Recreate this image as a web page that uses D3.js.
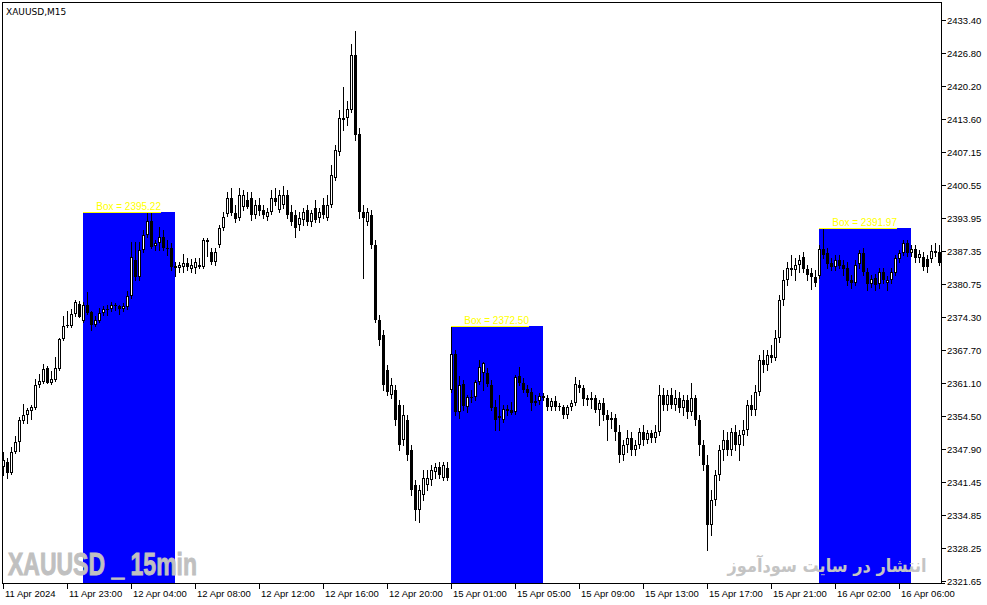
<!DOCTYPE html>
<html><head><meta charset="utf-8">
<script src="https://cdn.jsdelivr.net/npm/d3@7"></script>
<style>body{margin:0;background:#fff;overflow:hidden}</style>
</head><body><svg id="c" width="987" height="605"></svg>
<script>
const symbolTitle = "XAUUSD,M15";
const opens = [2344.36,2345.35,2343.16,2347.34,2349.33,2353.52,2354.71,2355.51,2356.11,2360.68,2361.28,2364.08,2361.08,2361.68,2363.88,2369.85,2372.44,2372.44,2374.83,2376.82,2373.44,2376.62,2375.23,2372.64,2373.44,2375.03,2375.83,2375.83,2376.62,2376.42,2375.83,2376.22,2378.41,2385.59,2382.20,2387.58,2390.57,2393.36,2388.38,2388.97,2390.17,2387.98,2387.98,2384.39,2384.00,2384.20,2384.99,2383.80,2384.00,2384.59,2384.20,2389.57,2387.18,2385.19,2388.57,2391.96,2394.75,2397.94,2394.95,2393.96,2396.15,2397.54,2397.94,2394.55,2396.54,2395.55,2394.15,2395.15,2397.94,2395.55,2396.54,2398.54,2395.15,2394.55,2392.56,2393.56,2395.55,2393.16,2395.95,2393.96,2396.54,2393.96,2396.54,2401.92,2407.10,2413.88,2413.88,2415.47,2426.42,2410.69,2395.15,2393.16,2394.55,2388.57,2373.64,2370.65,2363.68,2358.70,2359.69,2356.70,2349.73,2353.72,2347.74,2340.77,2335.79,2338.77,2340.77,2341.76,2343.36,2344.36,2342.16,2344.16,2359.69,2366.86,2355.31,2360.88,2356.31,2358.30,2358.30,2361.28,2363.08,2363.08,2360.68,2356.31,2354.11,2353.72,2355.91,2355.71,2355.31,2362.48,2361.08,2359.89,2359.29,2357.50,2357.50,2358.50,2358.10,2356.31,2357.50,2356.50,2356.31,2354.71,2356.31,2357.10,2360.68,2360.09,2358.10,2357.70,2358.10,2355.71,2357.10,2354.71,2353.72,2354.11,2351.32,2346.74,2348.73,2350.13,2347.74,2348.73,2351.32,2349.73,2351.12,2350.13,2351.32,2358.70,2356.70,2358.70,2356.70,2358.10,2356.11,2357.70,2355.31,2358.10,2353.72,2348.73,2344.75,2332.80,2337.78,2342.76,2347.74,2349.73,2347.74,2351.32,2348.73,2350.73,2351.72,2356.70,2355.71,2359.29,2365.67,2364.67,2366.66,2366.07,2370.05,2377.62,2381.60,2384.00,2383.60,2384.59,2386.19,2383.80,2383.00,2382.20,2382.40,2387.78,2386.98,2384.99,2384.20,2385.59,2384.59,2384.00,2381.60,2381.01,2384.79,2386.98,2383.20,2380.81,2382.00,2380.81,2383.20,2381.01,2381.60,2383.00,2385.79,2386.98,2388.97,2386.98,2387.78,2385.99,2386.19,2385.79,2385.79,2386.98,2387.18];
const highs = [2347.34,2346.15,2348.34,2350.53,2354.31,2356.90,2356.11,2356.70,2361.88,2362.88,2364.87,2364.48,2363.48,2366.27,2370.05,2374.44,2375.43,2375.83,2377.62,2377.42,2377.22,2379.21,2375.43,2374.44,2376.03,2376.42,2376.62,2377.22,2377.02,2376.62,2377.02,2379.41,2389.17,2389.17,2389.17,2391.56,2395.22,2394.95,2389.57,2392.16,2391.56,2389.57,2388.97,2385.19,2385.19,2386.78,2385.99,2385.79,2385.99,2385.99,2389.97,2389.97,2387.98,2387.98,2392.56,2395.15,2399.14,2399.93,2396.54,2399.93,2399.53,2399.14,2399.14,2397.54,2397.94,2396.54,2395.95,2399.53,2399.93,2399.53,2400.33,2399.53,2396.54,2395.55,2395.15,2395.95,2396.54,2395.55,2397.54,2395.95,2397.94,2398.54,2404.51,2408.50,2415.47,2420.05,2417.26,2428.61,2431.20,2411.88,2396.54,2395.95,2395.55,2389.57,2374.63,2371.64,2364.67,2362.08,2360.68,2357.70,2356.70,2354.71,2348.73,2341.76,2340.77,2343.76,2343.76,2344.75,2345.15,2345.35,2345.35,2345.35,2372.50,2367.66,2362.48,2361.68,2358.70,2359.69,2361.68,2365.67,2365.27,2364.08,2361.68,2357.70,2358.70,2356.70,2356.70,2357.30,2362.68,2364.27,2362.08,2360.68,2360.09,2358.70,2359.09,2359.09,2358.70,2358.10,2358.50,2357.10,2356.70,2356.70,2357.70,2362.28,2361.68,2360.68,2358.70,2359.29,2358.70,2357.70,2358.10,2355.71,2355.31,2354.91,2352.72,2349.73,2351.72,2351.32,2349.73,2352.12,2352.72,2351.72,2351.72,2352.72,2360.68,2360.09,2359.69,2360.09,2359.69,2359.29,2358.70,2358.70,2361.08,2358.70,2354.71,2349.73,2346.74,2339.77,2343.76,2348.73,2351.72,2351.32,2352.12,2352.72,2351.72,2353.72,2357.70,2358.70,2360.68,2366.66,2367.66,2367.66,2368.66,2371.64,2378.62,2383.60,2385.19,2386.58,2385.99,2386.58,2387.18,2384.59,2384.00,2383.60,2388.57,2391.97,2387.98,2385.99,2386.58,2386.58,2385.59,2385.19,2382.60,2385.59,2387.58,2387.98,2384.00,2382.60,2382.80,2384.00,2384.00,2382.40,2384.00,2386.58,2387.58,2389.57,2389.57,2388.57,2388.57,2387.58,2387.18,2386.58,2388.57,2388.97,2388.57];
const lows = [2342.76,2342.16,2342.96,2347.14,2347.54,2353.12,2353.12,2353.91,2355.91,2360.29,2361.08,2361.08,2360.88,2361.48,2363.68,2369.65,2372.24,2372.24,2374.44,2374.24,2373.24,2374.83,2371.64,2372.44,2373.24,2374.63,2374.63,2375.43,2375.63,2374.83,2375.43,2375.83,2378.02,2381.60,2381.60,2387.18,2390.17,2387.98,2387.58,2387.58,2387.58,2386.58,2383.60,2382.40,2383.20,2383.20,2383.60,2383.20,2383.00,2384.00,2384.00,2386.39,2384.79,2384.59,2388.18,2391.56,2394.35,2394.55,2393.16,2393.56,2395.55,2395.95,2393.56,2393.96,2394.55,2393.96,2393.56,2394.75,2396.54,2395.15,2395.95,2393.96,2392.56,2390.17,2391.56,2392.56,2392.56,2392.36,2393.16,2393.16,2393.96,2393.56,2396.15,2401.52,2406.50,2411.48,2412.48,2415.07,2409.49,2393.96,2382.00,2392.56,2387.98,2373.24,2368.66,2359.69,2358.70,2358.10,2352.72,2347.74,2348.73,2345.75,2338.77,2333.80,2333.40,2337.78,2339.77,2340.77,2342.16,2342.16,2341.76,2341.76,2359.29,2354.71,2354.11,2355.71,2355.31,2357.30,2357.70,2360.88,2359.69,2360.49,2355.71,2351.72,2351.72,2353.32,2354.71,2354.91,2354.91,2360.68,2359.29,2358.50,2355.71,2356.70,2356.90,2357.70,2355.71,2355.71,2355.71,2355.71,2354.11,2354.11,2355.71,2356.70,2359.29,2356.70,2356.70,2356.11,2355.31,2352.72,2353.72,2349.73,2352.12,2349.73,2345.35,2345.75,2347.34,2346.74,2346.74,2348.14,2348.73,2349.13,2349.33,2349.33,2350.73,2355.71,2355.71,2356.11,2355.71,2355.31,2354.71,2354.11,2354.71,2352.72,2346.74,2343.76,2327.82,2330.81,2336.78,2341.76,2345.75,2346.74,2346.74,2347.74,2345.75,2348.73,2350.73,2354.71,2354.71,2358.70,2363.28,2363.68,2365.27,2365.67,2369.25,2376.62,2380.61,2382.60,2381.60,2383.20,2383.20,2381.60,2379.81,2380.41,2382.00,2385.99,2384.00,2383.60,2383.60,2384.00,2382.60,2380.61,2380.01,2380.61,2384.00,2382.60,2379.61,2380.21,2379.61,2380.01,2381.01,2379.61,2381.01,2382.60,2385.19,2386.58,2386.39,2386.39,2385.19,2385.19,2383.60,2383.20,2385.19,2386.39,2384.59];
const closes = [2345.75,2343.16,2347.34,2349.33,2353.72,2354.71,2355.71,2356.31,2360.68,2361.48,2363.88,2361.08,2361.88,2364.08,2369.85,2372.44,2372.64,2374.83,2377.22,2374.24,2376.62,2375.03,2372.64,2373.64,2375.03,2375.83,2375.80,2376.62,2376.60,2375.83,2376.42,2378.41,2386.19,2382.20,2387.58,2390.57,2393.36,2388.18,2388.97,2390.17,2387.98,2387.95,2384.20,2384.00,2384.59,2384.99,2384.20,2384.59,2385.19,2384.20,2389.57,2389.17,2385.19,2387.18,2391.96,2394.15,2397.94,2394.95,2393.76,2398.54,2398.54,2396.15,2394.55,2396.54,2395.35,2394.55,2395.15,2397.94,2397.14,2398.54,2398.54,2394.55,2393.16,2391.96,2393.96,2395.15,2393.16,2394.95,2393.56,2395.15,2394.55,2396.54,2402.52,2407.50,2413.88,2413.48,2415.67,2426.42,2410.49,2395.15,2393.96,2395.15,2388.57,2373.64,2369.65,2360.68,2359.29,2360.68,2353.72,2348.73,2354.71,2346.74,2339.77,2335.79,2339.77,2342.16,2342.16,2343.76,2344.36,2342.76,2344.75,2342.16,2366.86,2355.31,2360.68,2356.50,2358.30,2358.10,2361.28,2364.27,2365.07,2360.88,2356.11,2353.72,2354.51,2355.91,2355.51,2355.11,2362.28,2361.08,2359.69,2359.09,2357.10,2357.10,2358.50,2358.10,2356.31,2357.50,2356.31,2356.31,2354.71,2356.31,2357.10,2360.88,2360.09,2357.90,2357.70,2358.10,2355.71,2357.10,2354.71,2353.72,2354.11,2351.32,2346.74,2348.73,2350.13,2347.74,2348.73,2351.32,2349.73,2351.12,2350.13,2351.32,2358.70,2356.70,2358.70,2356.70,2358.10,2356.11,2357.70,2355.31,2358.10,2353.72,2348.73,2344.75,2332.80,2337.78,2342.76,2347.74,2349.73,2347.74,2351.32,2348.73,2350.73,2351.72,2356.70,2355.71,2359.29,2365.67,2364.67,2366.66,2366.07,2370.05,2377.62,2381.60,2384.00,2383.60,2384.59,2385.59,2383.80,2382.60,2382.20,2381.01,2387.78,2386.58,2384.79,2384.20,2385.59,2384.39,2383.80,2381.40,2381.01,2384.59,2386.98,2383.20,2380.81,2381.80,2380.61,2383.20,2381.60,2381.60,2383.20,2385.99,2386.98,2388.97,2386.98,2387.78,2385.99,2386.78,2384.20,2384.20,2387.38,2387.38,2384.99];

const xTickIndex = [0,16,32,48,64,80,96,112,128,144,160,176,192,208,224];
const xTickLabels = ["11 Apr 2024","11 Apr 23:00","12 Apr 04:00","12 Apr 08:00","12 Apr 12:00","12 Apr 16:00","12 Apr 20:00","15 Apr 01:00","15 Apr 05:00","15 Apr 09:00","15 Apr 13:00","15 Apr 17:00","15 Apr 21:00","16 Apr 02:00","16 Apr 06:00"];
const yTickValues = [2433.40,2426.80,2420.20,2413.60,2407.15,2400.55,2393.95,2387.35,2380.75,2374.30,2367.70,2361.10,2354.50,2347.90,2341.45,2334.85,2328.25,2321.65];
const yTickLabels = ["2433.40","2426.80","2420.20","2413.60","2407.15","2400.55","2393.95","2387.35","2380.75","2374.30","2367.70","2361.10","2354.50","2347.90","2341.45","2334.85","2328.25","2321.65"];
const boxStart = [20,112,204];
const boxEnd = [43,135,227];
const boxLevels = [2395.22,2372.50,2391.97];
const boxLabels = ["Box = 2395.22","Box = 2372.50","Box = 2391.97"];
const watermarkLeft = "XAUUSD _ 15min";
const watermarkRight = "انتشار در سایت سودآموز";
const priceMin = 2321.15, priceMax = 2436.98;

const L = 2, T = 2, R = 941, B = 583;
const svg = d3.select("#c");
svg.append("rect").attr("width",987).attr("height",605).attr("fill","#fff");

const n = opens.length;
const x = d3.scaleLinear().domain([0, n-1]).range([3.3, 3.3 + 4*(n-1)]);
const y = d3.scaleLinear().domain([priceMin, priceMax]).range([B + 0.5, T]);

svg.append("clipPath").attr("id","clip").append("rect")
  .attr("x",L+1).attr("y",T+1).attr("width",R-L-1).attr("height",B-T-1);
const plot = svg.append("g").attr("clip-path","url(#clip)").attr("shape-rendering","crispEdges");

// boxes
const boxes = d3.range(boxStart.length).map(i => ({s:boxStart[i], e:boxEnd[i], v:boxLevels[i], t:boxLabels[i]}));
plot.selectAll("rect.box").data(boxes).join("rect").attr("class","box")
  .attr("x", d => Math.round(x(d.s)))
  .attr("width", d => Math.round(x(d.e)) - Math.round(x(d.s)))
  .attr("y", d => Math.round(y(d.v)))
  .attr("height", d => B - Math.round(y(d.v)))
  .attr("fill","#0000ff");

// candles
const bars = d3.range(n).map(i => ({i, o:opens[i], h:highs[i], l:lows[i], c:closes[i]}));
const g = plot.selectAll("g.bar").data(bars).join("g").attr("class","bar");
g.append("line")
  .attr("x1", d => Math.round(x(d.i)) + 0.5).attr("x2", d => Math.round(x(d.i)) + 0.5)
  .attr("y1", d => Math.round(y(Math.max(d.h,d.o,d.c))))
  .attr("y2", d => Math.round(y(Math.min(d.l,d.o,d.c))) + 1)
  .attr("stroke","#000").attr("stroke-width",1);
g.each(function(d){
  const cx = Math.round(x(d.i));
  const top = Math.round(y(Math.max(d.o,d.c)));
  const bot = Math.round(y(Math.min(d.o,d.c)));
  const sel = d3.select(this);
  if (d.c > d.o && bot - top >= 2) {
    sel.append("rect").attr("x", cx-0.5).attr("y", top+0.5)
      .attr("width", 2).attr("height", bot-top-1)
      .attr("fill","#fff").attr("stroke","#000").attr("stroke-width",1);
  } else {
    sel.append("rect").attr("x", cx-1).attr("y", top)
      .attr("width", 3).attr("height", Math.max(1, bot-top))
      .attr("fill","#000");
  }
});

// box labels
const labelSpan = 78;
plot.selectAll("line.bl").data(boxes).join("line").attr("class","bl")
  .attr("x1", d => Math.round(x(d.s))).attr("x2", d => Math.round(x(d.s)) + labelSpan)
  .attr("y1", d => Math.round(y(d.v)) + 0.5).attr("y2", d => Math.round(y(d.v)) + 0.5)
  .attr("stroke","#ffff00").attr("stroke-width",1);
svg.selectAll("text.bt").data(boxes).join("text").attr("class","bt")
  .attr("x", d => Math.round(x(d.s)) + labelSpan).attr("y", d => Math.round(y(d.v)) - 2)
  .attr("text-anchor","end").attr("fill","#ffff00")
  .attr("font-family","'Liberation Sans', Arial, sans-serif").attr("font-size","10px")
  .text(d => d.t);

// watermarks
svg.append("text").attr("x",8).attr("y",575)
  .attr("font-family","'Liberation Sans Narrow','Liberation Sans',Arial,sans-serif")
  .attr("font-weight","bold").attr("font-size","31px").attr("fill","#c0c0c0")
  .attr("stroke","#c0c0c0").attr("stroke-width",0.9)
  .attr("textLength",189).attr("lengthAdjust","spacingAndGlyphs")
  .text(watermarkLeft);
svg.append("text").attr("x",827).attr("y",572)
  .attr("text-anchor","middle").attr("direction","rtl")
  .attr("font-family","'DejaVu Sans',sans-serif")
  .attr("font-weight","bold").attr("font-size","18px").attr("fill","#c4c4c4")
  .attr("textLength",199).attr("lengthAdjust","spacingAndGlyphs")
  .text(watermarkRight);

// frame
const fr = svg.append("g").attr("shape-rendering","crispEdges").attr("stroke","#000").attr("stroke-width",1);
fr.append("line").attr("x1",L).attr("x2",R+1).attr("y1",T+0.5).attr("y2",T+0.5);
fr.append("line").attr("x1",L+0.5).attr("x2",L+0.5).attr("y1",T).attr("y2",B+1);
fr.append("line").attr("x1",L).attr("x2",R+4).attr("y1",B+0.5).attr("y2",B+0.5);
fr.append("line").attr("x1",R+0.5).attr("x2",R+0.5).attr("y1",T).attr("y2",B+1);

// y axis ticks
const yt = svg.append("g");
yTickValues.forEach((v,i) => {
  const yy = Math.round(y(v));
  yt.append("line").attr("x1",R+1).attr("x2",R+5).attr("y1",yy+0.5).attr("y2",yy+0.5)
    .attr("stroke","#000").attr("shape-rendering","crispEdges");
  yt.append("text").attr("x",R+6).attr("y",yy+0.5).attr("dy","0.35em")
    .attr("font-family","'Liberation Sans', Arial, sans-serif").attr("font-size","9.5px").attr("fill","#000")
    .text(yTickLabels[i]);
});

// x axis ticks
const xt = svg.append("g");
xTickIndex.forEach((idx,i) => {
  const xx = Math.round(x(idx));
  xt.append("line").attr("x1",xx+0.5).attr("x2",xx+0.5).attr("y1",B).attr("y2",B+6)
    .attr("stroke","#000").attr("shape-rendering","crispEdges");
  xt.append("text").attr("x",xx+2).attr("y",597)
    .attr("font-family","'Liberation Sans', Arial, sans-serif").attr("font-size","9.5px").attr("fill","#000")
    .text(xTickLabels[i]);
});

// title
svg.append("text").attr("x",6).attr("y",15)
  .attr("font-family","'DejaVu Sans',sans-serif").attr("font-size","9px").attr("fill","#000")
  .text(symbolTitle);
</script>
</body></html>
